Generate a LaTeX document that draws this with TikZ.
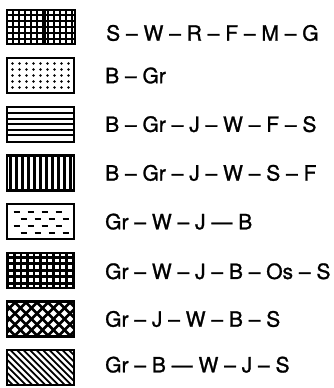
\documentclass[tikz,border=0pt]{standalone}
\usepackage{fontspec}
\setmainfont{TeX Gyre Heros}
\newfontfamily\labfont{TeX Gyre Heros}[Ligatures=TeX, FakeBold=1.2]
\usetikzlibrary{positioning}

\begin{document}
\begin{tikzpicture}[
    box/.style={
        draw,
        rectangle,
        line width=2.4bp,
        minimum height=35bp,
        minimum width=67bp,
        inner sep=0pt,
        outer sep=0pt
    },
    inbox/.style={
        path picture={
            \begin{scope}[shift={(path picture bounding box.center)}]
            #1
            \end{scope}
        }
    },
    gridfill/.style={inbox={
        \foreach \t in {-36,-30,...,36} {
            \draw[line width=2.4bp] (\t bp,-24bp) -- (\t bp,24bp);
            \draw[line width=2.4bp] (-40bp,\t bp) -- (40bp,\t bp);
        }
    }},
    dotfill/.style={inbox={
        \foreach \x in {-28,-21,...,28}
            \foreach \y in {-12,-6,...,12}
                \fill (\x bp,\y bp) circle (1.3bp);
    }},
    hfill/.style={inbox={
        \foreach \y in {-11,-5.5,...,12}
            \draw[line width=1.7bp] (-40bp,\y bp) -- (40bp,\y bp);
    }},
    vfill/.style={inbox={
        \foreach \x in {-30,-24,...,30}
            \draw[line width=2.6bp] (\x bp,-24bp) -- (\x bp,24bp);
    }},
    dashfill/.style={inbox={
        \foreach \y in {10,-4}
            \foreach \x in {-27,-13,...,27}
                \draw[line width=1.8bp] (\x bp,\y bp) -- ++(6bp,0);
        \foreach \y in {3,-11}
            \foreach \x in {-20,-6,...,27}
                \draw[line width=1.8bp] (\x bp,\y bp) -- ++(6bp,0);
    }},
    meshfill/.style={inbox={
        \foreach \t in {-39,-32.5,...,39} {
            \draw[line width=2.8bp] (\t bp,-24bp) -- (\t bp,24bp);
            \draw[line width=2.8bp] (-40bp,\t bp) -- (40bp,\t bp);
        }
        \foreach \x in {-29.25,-22.75,...,30}
            \foreach \y in {-13,-6.5,...,14}
                \fill (\x bp-0.8bp,\y bp-0.8bp) rectangle ++(1.6bp,1.6bp);
    }},
    crossfill/.style={inbox={
        \foreach \t in {-84,-73,...,45} {
            \draw[line width=2.6bp] (\t bp,-20bp) -- ++(40bp,40bp);
            \draw[line width=2.6bp] (\t bp,20bp) -- ++(40bp,-40bp);
        }
    }},
    diagfill/.style={inbox={
        \foreach \t in {-78,-71.5,...,45}
            \draw[line width=1.8bp] (\t bp,20bp) -- ++(40bp,-40bp);
    }},
    lab/.style={
        inner sep=0pt,
        font=\labfont\fontsize{21bp}{25bp}\selectfont
    }
]

\useasboundingbox (0,0) rectangle (334bp,-388bp);

\node[box, gridfill, minimum width=36bp, minimum height=34bp] (g1) at (25bp,-27bp) {};
\node[box, gridfill, minimum width=30bp, minimum height=34bp, right=2bp of g1] (g2) {};
\node[box, dotfill, below right=14bp and 0bp of g1.south west] (dots) {};
\node[box, hfill, below=13.7bp of dots] (hl) {};
\node[box, vfill, below=13.7bp of hl] (vl) {};
\node[box, dashfill, below=13.7bp of vl] (dash) {};
\node[box, meshfill, below=13.7bp of dash] (mesh) {};
\node[box, crossfill, below=13.7bp of mesh] (cross) {};
\node[box, diagfill, below=13.7bp of cross] (diag) {};

\node[lab, right=31bp of g2, yshift=-6bp] (t1) {S -- W -- R -- F -- M -- G};
\node[lab, right=31bp of dots] (t2) {B -- Gr};
\node[lab, right=31bp of hl] (t3) {B -- Gr -- J -- W -- F -- S};
\node[lab, right=31bp of vl] (t4) {B -- Gr -- J -- W -- S -- F};
\node[lab, right=31bp of dash] (t5) {Gr -- W -- J --- B};
\node[lab, right=31bp of mesh, yshift=-1bp] (t6) {Gr -- W -- J -- B -- Os -- S};
\node[lab, right=31bp of cross] (t7) {Gr -- J -- W -- B -- S};
\node[lab, right=31bp of diag, yshift=3bp] (t8) {Gr -- B --- W -- J -- S};

\end{tikzpicture}
\end{document}
